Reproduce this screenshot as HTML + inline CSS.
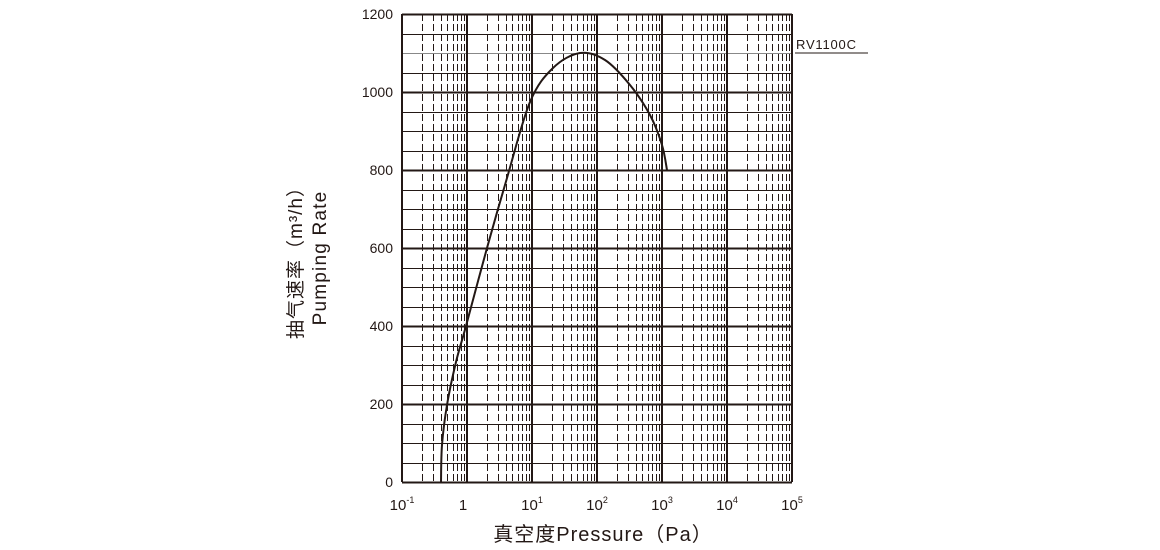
<!DOCTYPE html>
<html><head><meta charset="utf-8"><style>
body{margin:0;background:#fff;width:1160px;height:550px;overflow:hidden}
svg{display:block}
text{font-family:"Liberation Sans","Noto Sans CJK SC",sans-serif;fill:#231815}
</style></head><body>
<svg width="1160" height="550" xmlns="http://www.w3.org/2000/svg">
<g id="g"></g>
<text x="796" y="49" font-size="13" letter-spacing="0.8">RV1100C</text>
<line x1="795" y1="53" x2="868" y2="53" stroke="#231815" stroke-width="1"/>
<g font-size="14" text-anchor="end">
<text x="393" y="19">1200</text><text x="393" y="97">1000</text><text x="393" y="175">800</text>
<text x="393" y="253">600</text><text x="393" y="331">400</text><text x="393" y="409">200</text><text x="393" y="487">0</text>
</g>
<g font-size="15" text-anchor="middle">
<text x="402" y="510">10<tspan font-size="9" dy="-7">-1</tspan></text>
<text x="463" y="510">1</text>
<text x="532" y="510">10<tspan font-size="9" dy="-7">1</tspan></text>
<text x="597" y="510">10<tspan font-size="9" dy="-7">2</tspan></text>
<text x="662" y="510">10<tspan font-size="9" dy="-7">3</tspan></text>
<text x="727" y="510">10<tspan font-size="9" dy="-7">4</tspan></text>
<text x="792" y="510">10<tspan font-size="9" dy="-7">5</tspan></text>
</g>
<text x="603" y="541" font-size="20" text-anchor="middle" letter-spacing="1">真空度Pressure（Pa）</text>
<text transform="translate(302,258) rotate(-90)" font-size="19" text-anchor="middle" letter-spacing="1">抽气速率（m³/h）</text>
<text transform="translate(326,258) rotate(-90)" font-size="19" text-anchor="middle" letter-spacing="1.2">Pumping Rate</text>
<path id="c" fill="none" stroke="#231815" stroke-width="2"/>
</svg>
<script>
var g=document.getElementById('g'),s='',x0=402,x1=792,y0=14,y1=482;
for(var i=0;i<=24;i++){var y=Math.round(y0+i*19.5)+0.5;var w=(i%4==0)?2:1;var c=(i==2)?'#888':'#231815';s+='<line x1="'+x0+'" y1="'+y+'" x2="'+x1+'" y2="'+y+'" stroke="'+c+'" stroke-width="'+w+'"/>';}
for(var d=0;d<6;d++){for(var k=2;k<10;k++){var x=Math.round(x0+d*65+65*Math.log10(k))+0.5;s+='<line x1="'+x+'" y1="'+y0+'" x2="'+x+'" y2="'+y1+'" stroke="#231815" stroke-width="1" stroke-dasharray="7,3"/>';}}
for(var d=0;d<=6;d++){var x=x0+d*65;s+='<line x1="'+x+'" y1="'+y0+'" x2="'+x+'" y2="'+y1+'" stroke="#231815" stroke-width="2"/>';}
g.innerHTML=s;
var p=[[441,482],[442,445],[447,405],[456,362],[466,326],[487,248],[507,178],[530,102],[553,68],[580,53],[605,60],[630,85],[650,115],[662,145],[667,170]];
var d='M'+p[0];
for(var i=0;i<p.length-1;i++){var a=p[i-1]||p[i],b=p[i],c=p[i+1],e=p[i+2]||c;
d+=' C'+(b[0]+(c[0]-a[0])/6)+','+(b[1]+(c[1]-a[1])/6)+' '+(c[0]-(e[0]-b[0])/6)+','+(c[1]-(e[1]-b[1])/6)+' '+c[0]+','+c[1];}
document.getElementById('c').setAttribute('d',d);
</script>
</body></html>
